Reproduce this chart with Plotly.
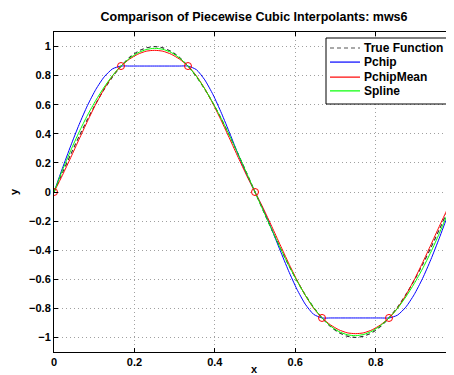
import plotly.graph_objects as go

# sample positions (x)
x_fine = [0, 0.0208, 0.0417, 0.0625, 0.0833, 0.1042, 0.125, 0.1458, 0.1667, 0.1875,
          0.2083, 0.2292, 0.25, 0.2708, 0.2917, 0.3125, 0.3333, 0.3542, 0.375, 0.3958,
          0.4167, 0.4375, 0.4583, 0.4792, 0.5, 0.5208, 0.5417, 0.5625, 0.5833, 0.6042,
          0.625, 0.6458, 0.6667, 0.6875, 0.7083, 0.7292, 0.75, 0.7708, 0.7917, 0.8125,
          0.8333, 0.8542, 0.875, 0.8958, 0.9167, 0.9375, 0.9583, 0.9792, 1.0]

true_fn = [0.000, 0.131, 0.259, 0.383, 0.500, 0.609, 0.707, 0.793, 0.866, 0.924, 0.966, 0.991,
           1.000, 0.991, 0.966, 0.924, 0.866, 0.793, 0.707, 0.609, 0.500, 0.383, 0.259, 0.131,
           0.000, -0.131, -0.259, -0.383, -0.500, -0.609, -0.707, -0.793, -0.866, -0.924,
           -0.966, -0.991, -1.000, -0.991, -0.966, -0.924, -0.866, -0.793, -0.707, -0.609,
           -0.500, -0.383, -0.259, -0.131, 0.000]

pchip = [0.000, 0.162, 0.318, 0.464, 0.595, 0.706, 0.792, 0.847, 0.866, 0.866, 0.866, 0.866,
         0.866, 0.866, 0.866, 0.866, 0.866, 0.841, 0.771, 0.668, 0.541, 0.401, 0.257, 0.120,
         0.000, -0.120, -0.257, -0.401, -0.541, -0.668, -0.771, -0.841, -0.866, -0.866,
         -0.866, -0.866, -0.866, -0.866, -0.866, -0.866, -0.866, -0.847, -0.792, -0.706,
         -0.595, -0.464, -0.318, -0.162, 0.000]

pchip_mean = [0.000, 0.114, 0.237, 0.363, 0.487, 0.605, 0.710, 0.799, 0.866, 0.913, 0.947, 0.968,
              0.974, 0.968, 0.947, 0.913, 0.866, 0.799, 0.710, 0.605, 0.487, 0.363, 0.237, 0.114,
              0.000, -0.114, -0.237, -0.363, -0.487, -0.605, -0.710, -0.799, -0.866, -0.913,
              -0.947, -0.968, -0.974, -0.968, -0.947, -0.913, -0.866, -0.799, -0.710, -0.605,
              -0.487, -0.363, -0.237, -0.114, 0.000]

spline = [0.000, 0.148, 0.286, 0.413, 0.528, 0.631, 0.722, 0.801, 0.866, 0.918, 0.956, 0.979,
          0.988, 0.981, 0.959, 0.921, 0.866, 0.795, 0.709, 0.610, 0.501, 0.383, 0.259, 0.130,
          0.000, -0.130, -0.259, -0.383, -0.501, -0.610, -0.709, -0.795, -0.866, -0.921,
          -0.959, -0.981, -0.988, -0.979, -0.956, -0.918, -0.866, -0.801, -0.722, -0.631,
          -0.528, -0.413, -0.286, -0.148, 0.000]

x_data = [0, 0.1667, 0.3333, 0.5, 0.6667, 0.8333, 1.0]
y_data = [0, 0.866, 0.866, 0, -0.866, -0.866, 0]

x_ticks = [0, 0.2, 0.4, 0.6, 0.8, 1]
x_tick_labels = ["0", "0.2", "0.4", "0.6", "0.8", "1"]
y_ticks = [-1, -0.8, -0.6, -0.4, -0.2, 0, 0.2, 0.4, 0.6, 0.8, 1]
y_tick_labels = ["\u22121", "\u22120.8", "\u22120.6", "\u22120.4", "\u22120.2", "0",
                 "0.2", "0.4", "0.6", "0.8", "1"]

series_names = ["True Function", "Pchip", "PchipMean", "Spline"]
series_colors = ["#333333", "#0000ff", "#ff0000", "#00ff00"]
series_dash = ["dash", "solid", "solid", "solid"]
series_values = [true_fn, pchip, pchip_mean, spline]

FONT = "Liberation Sans, Arial, Helvetica, sans-serif"

fig = go.Figure()
for name, col, dash, vals in zip(series_names, series_colors, series_dash, series_values):
    fig.add_trace(go.Scatter(x=x_fine, y=vals, mode="lines", name=name, showlegend=False,
                             line=dict(color=col, width=1.1 if dash == "dash" else 1,
                                       dash="4px,3px" if dash == "dash" else "solid",
                                       shape="spline", smoothing=0.6)))
fig.add_trace(go.Scatter(x=x_data, y=y_data, mode="markers", showlegend=False,
                         marker=dict(symbol="circle-open", size=7, color="#ff0000",
                                     line=dict(width=1, color="#ff0000"))))

# legend drawn as a boxed key inside the axes (paper coordinates)
leg_x0, leg_x1, leg_top, leg_bot = 0.68, 0.985, 0.98125, 0.775
row_y = [0.95, 0.906, 0.859, 0.816]
fig.add_shape(type="rect", xref="paper", yref="paper", x0=leg_x0, x1=leg_x1,
              y0=leg_bot, y1=leg_top, line=dict(color="black", width=1), fillcolor="white",
              layer="above")
for name, col, dash, ry in zip(series_names, series_colors, series_dash, row_y):
    fig.add_shape(type="line", xref="paper", yref="paper", x0=0.69, x1=0.765, y0=ry, y1=ry,
                  line=dict(color="#555555" if dash == "dash" else col, width=1.2,
                            dash="4px,3px" if dash == "dash" else "solid"), layer="above")
    fig.add_annotation(x=0.77, y=ry, xref="paper", yref="paper", text=name, showarrow=False,
                       xanchor="left", yanchor="middle",
                       font=dict(family=FONT, size=12, color="black", weight="bold"))

axis_common = dict(showline=True, linecolor="black", linewidth=1, mirror="ticks",
                   ticks="inside", ticklen=4, tickcolor="black",
                   showgrid=True, gridcolor="#a0a0a0", griddash="1px,3px", gridwidth=1,
                   zeroline=False,
                   tickfont=dict(family=FONT, size=11, color="black", weight="bold"))

fig.update_layout(
    width=446, height=367,
    margin=dict(l=46, r=0, t=24, b=23),
    paper_bgcolor="white", plot_bgcolor="white",
    font=dict(family=FONT, color="black", weight="bold"),
    title=dict(text="Comparison of Piecewise Cubic Interpolants: mws6",
               font=dict(size=12.5, weight="bold"),
               x=0.5516, xanchor="center", y=0.9755, yanchor="middle"),
    xaxis=dict(range=[0, 0.995], tickvals=x_ticks, ticktext=x_tick_labels,
               title=dict(text="x", standoff=6, font=dict(size=11, weight="bold")),
               automargin=False, **axis_common),
    yaxis=dict(range=[-1.1, 1.1], tickvals=y_ticks, ticktext=y_tick_labels,
               title=dict(text="y", standoff=10, font=dict(size=11, weight="bold")),
               automargin=False, **axis_common),
    showlegend=False,
)

fig.write_html("out.html")
